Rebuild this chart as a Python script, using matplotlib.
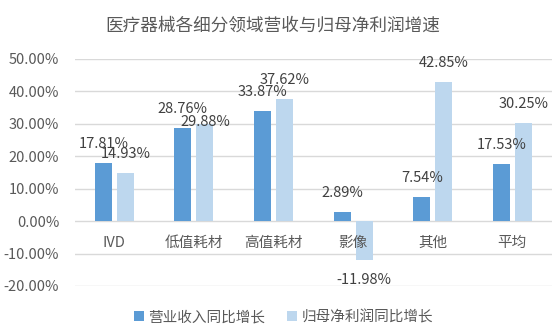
import matplotlib.pyplot as plt
import numpy as np

plt.rcParams['font.family'] = ['Noto Sans CJK SC', 'DejaVu Sans']

categories = ["IVD", "低值耗材", "高值耗材", "影像", "其他", "平均"]
revenue_growth = [17.81, 28.76, 33.87, 2.89, 7.54, 17.53]
profit_growth = [14.93, 29.88, 37.62, -11.98, 42.85, 30.25]
series_names = ["营业收入同比增长", "归母净利润同比增长"]
yticks = [-20, -10, 0, 10, 20, 30, 40, 50]

text_color = "#595959"
c1 = "#5B9BD5"
c2 = "#BDD7EE"

fig = plt.figure(figsize=(5.56, 3.31), dpi=100)
ax = fig.add_axes([0.134, 0.136, 0.859, 0.686])

x = np.arange(len(categories))
w = 0.215
off = 0.138
b1 = ax.bar(x - off, revenue_growth, w, color=c1, label=series_names[0], zorder=3)
b2 = ax.bar(x + off, profit_growth, w, color=c2, label=series_names[1], zorder=3)

# value labels above (or below) each bar; the 29.88% one was nudged down onto its bar
label_dy = {(1, 1): 1.5}
for s, (bars, vals) in enumerate(((b1, revenue_growth), (b2, profit_growth))):
    for i, (rect, v) in enumerate(zip(bars, vals)):
        cx = rect.get_x() + rect.get_width() / 2
        dy = 13.7 if v >= 0 else -14.4
        dy = label_dy.get((s, i), dy)
        ax.annotate(f"{v:.2f}%", (cx, v), xytext=(0, dy), textcoords="offset points",
                    ha="center", va="center", fontsize=10.5, color="#404040", zorder=4)

# category names sit just under the zero line
for i, name in enumerate(categories):
    ax.text(i, -6.8, name, ha="center", va="center", fontsize=10.5, color=text_color)

ax.set_xlim(-0.5, len(categories) - 0.5)
ax.set_ylim(-20, 50)
ax.set_yticks(yticks)
ax.set_yticklabels([f"{t:.2f}%" for t in yticks], fontsize=10.5, color=text_color)
ax.set_xticks([])
ax.tick_params(axis="y", length=0, pad=11)
ax.grid(axis="y", color="#D9D9D9", linewidth=1, zorder=0)
for sp in ax.spines.values():
    sp.set_visible(False)

fig.suptitle("医疗器械各细分领域营收与归母净利润增速", x=0.49, y=0.924, va="center",
             fontsize=12.7, color=text_color)

fig.legend(loc="center", bbox_to_anchor=(0.51, 0.042), ncol=2, frameon=False,
           fontsize=10.5, labelcolor=text_color, handlelength=0.7, handleheight=0.7,
           handletextpad=0.3, columnspacing=1.5)

fig.savefig("out.png", dpi=100)
